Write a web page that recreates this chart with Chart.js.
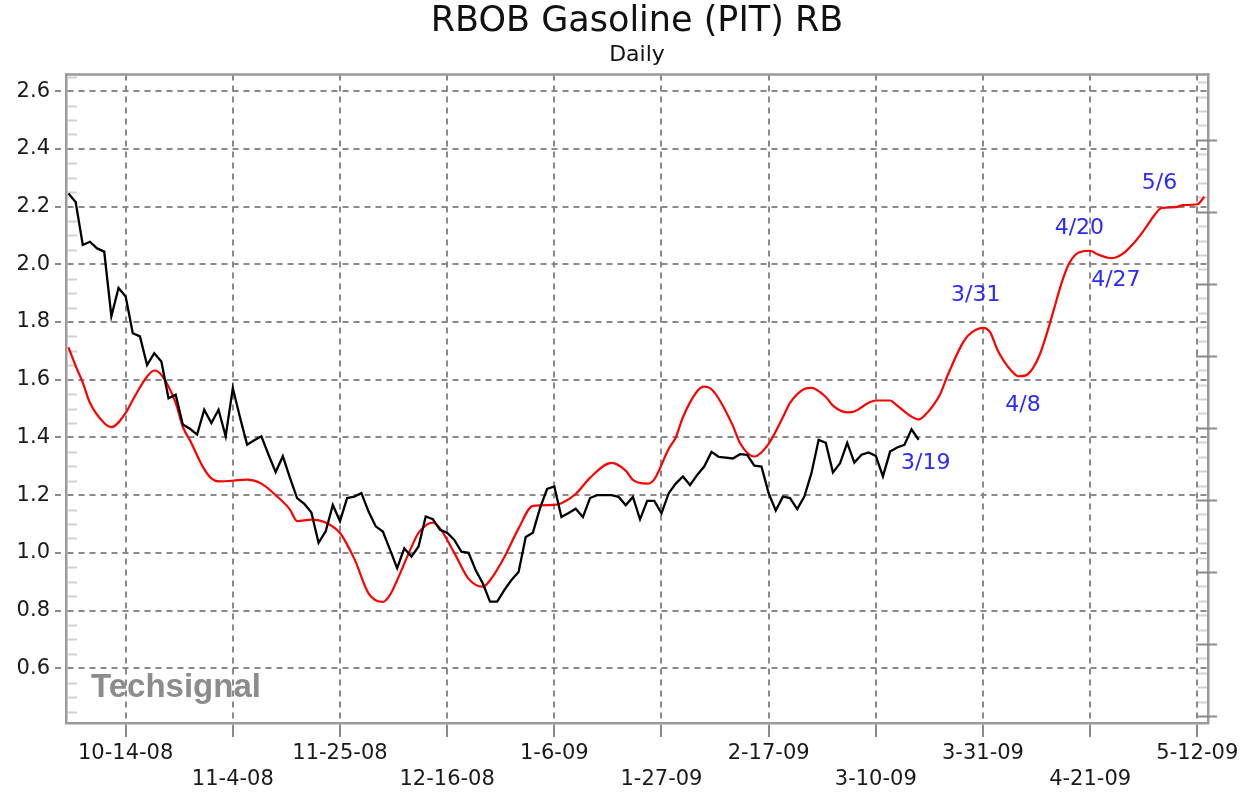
<!DOCTYPE html>
<html>
<head>
<meta charset="utf-8">
<script src="https://cdn.jsdelivr.net/npm/chart.js@4.4.1/dist/chart.umd.min.js"></script>
<style>
html,body{margin:0;padding:0;background:#ffffff;}
canvas{display:block;}
</style>
</head>
<body>
<canvas id="c" width="1259" height="794"></canvas>
<script>
// x positions are weekday indexes counted from Thu 10-2-08 (index 0)
const tickDays = [8, 23, 38, 53, 68, 83, 98, 113, 128, 143, 158];
const tickLabels = ['10-14-08','11-4-08','11-25-08','12-16-08','1-6-09','1-27-09','2-17-09','3-10-09','3-31-09','4-21-09','5-12-09'];
const yTicks = [0.6, 0.8, 1.0, 1.2, 1.4, 1.6, 1.8, 2.0, 2.2, 2.4, 2.6];

// daily RBOB close, one value per weekday starting at index 0
const priceValues = [
  2.245, 2.216, 2.067, 2.078, 2.055, 2.044, 1.820, 1.918, 1.888, 1.761,
  1.750, 1.651, 1.692, 1.663, 1.536, 1.548, 1.445, 1.430, 1.410, 1.496,
  1.450, 1.496, 1.404, 1.571, 1.470, 1.375, 1.390, 1.404, 1.340, 1.280,
  1.335, 1.260, 1.190, 1.170, 1.140, 1.035, 1.075, 1.166, 1.110, 1.190,
  1.195, 1.207, 1.143, 1.092, 1.074, 1.011, 0.947, 1.016, 0.987, 1.022,
  1.126, 1.117, 1.080, 1.070, 1.045, 1.004, 1.000, 0.940, 0.894, 0.831,
  0.831, 0.871, 0.906, 0.934, 1.055, 1.070, 1.155, 1.222, 1.230, 1.124,
  1.138, 1.153, 1.124, 1.190, 1.200, 1.200, 1.200, 1.194, 1.165, 1.194,
  1.116, 1.180, 1.180, 1.137, 1.206, 1.240, 1.265, 1.235, 1.270, 1.300,
  1.350, 1.333, 1.330, 1.327, 1.342, 1.340, 1.302, 1.299, 1.207, 1.147,
  1.195, 1.190, 1.152, 1.195, 1.277, 1.392, 1.381, 1.279, 1.311, 1.381,
  1.313, 1.340, 1.348, 1.336, 1.265, 1.351, 1.365, 1.374, 1.428, 1.392
];

// red cycle projection line
const cycleDays = [
  0, 1, 2, 3, 5, 6, 8, 9, 11, 12, 13, 15, 16, 17, 19, 20, 21, 23, 25, 27,
  29, 31, 32, 34, 36, 38, 40, 42, 44, 45, 46, 48, 49, 51, 52, 54, 56, 58, 59, 61,
  63, 65, 68, 69, 71, 73, 76, 78, 79, 81, 82, 84, 85, 86, 88, 89, 90, 91, 93, 94,
  96, 98, 100, 101, 103, 104, 106, 107, 109, 110, 112, 113, 115, 116, 118, 119, 120, 122, 123, 125,
  126, 128, 129, 130, 132, 133, 134, 135, 136, 137, 138, 139, 140, 141, 142, 143, 144, 146, 147, 148,
  149, 150, 151, 152, 153, 155, 156, 158, 159
];
const cycleValues = [
  1.712, 1.648, 1.590, 1.520, 1.450, 1.436, 1.485, 1.530, 1.611, 1.632, 1.617, 1.520, 1.437, 1.390, 1.290, 1.258, 1.248, 1.250, 1.254, 1.240,
  1.200, 1.150, 1.110, 1.115, 1.105, 1.069, 0.980, 0.860, 0.830, 0.854, 0.905, 1.020, 1.069, 1.105, 1.085, 1.000, 0.910, 0.883, 0.905, 0.985,
  1.085, 1.163, 1.166, 1.172, 1.204, 1.260, 1.312, 1.285, 1.253, 1.240, 1.255, 1.360, 1.400, 1.470, 1.560, 1.576, 1.567, 1.535, 1.440, 1.380,
  1.334, 1.378, 1.470, 1.520, 1.568, 1.572, 1.540, 1.510, 1.487, 1.490, 1.520, 1.528, 1.528, 1.510, 1.472, 1.462, 1.480, 1.550, 1.612, 1.720,
  1.755, 1.780, 1.765, 1.705, 1.630, 1.612, 1.615, 1.640, 1.690, 1.765, 1.850, 1.935, 2.000, 2.035, 2.045, 2.047, 2.035, 2.021, 2.028, 2.045,
  2.070, 2.100, 2.135, 2.170, 2.195, 2.198, 2.205, 2.208, 2.234
];

// blue date notes (anchor = text centre)
const noteTexts = ['3/19', '3/31', '4/8', '4/20', '4/27', '5/6'];
const noteDays = [120.0, 127.0, 133.6, 141.5, 146.6, 152.7];
const noteValues = [1.310, 1.893, 1.510, 2.125, 1.946, 2.280];

const FONT = "'DejaVu Sans', Verdana, sans-serif";

const decor = {
  id: 'decor',
  beforeDatasetsDraw(chart) {
    const {ctx, chartArea: a, scales} = chart;
    ctx.save();
    // watermark
    ctx.font = "bold 33px 'Liberation Sans', Arial, sans-serif";
    ctx.fillStyle = '#8c8c8c';
    ctx.textAlign = 'left';
    ctx.textBaseline = 'alphabetic';
    ctx.fillText('Techsignal', a.left + 25, a.bottom - 26);
    // left minor ticks
    ctx.strokeStyle = '#d2d2d2';
    ctx.lineWidth = 2;
    const y = scales.y;
    for (let k = 9; k <= 53; k++) {
      if (k % 4 === 0) continue;
      const py = Math.round(y.getPixelForValue(k * 0.05)) + 0.5;
      if (py < a.top + 3 || py > a.bottom - 3) continue;
      ctx.beginPath(); ctx.moveTo(a.left + 2, py); ctx.lineTo(a.left + 11, py); ctx.stroke();
    }
    // right axis minor + major ticks
    const y2 = scales.y2;
    for (let k = 0; k <= 44; k++) {
      const v = k * 0.2;
      const py = Math.round(y2.getPixelForValue(v)) + 0.5;
      if (py < a.top + 3 || py > a.bottom - 3) continue;
      ctx.beginPath();
      if (k % 5 === 0) {
        ctx.strokeStyle = '#8a8a8a';
        ctx.moveTo(a.right - 12, py); ctx.lineTo(a.right + 9, py);
      } else {
        ctx.strokeStyle = '#d2d2d2';
        ctx.moveTo(a.right - 10, py); ctx.lineTo(a.right - 1, py);
      }
      ctx.stroke();
    }
    // top frame
    ctx.strokeStyle = '#9a9a9a';
    ctx.lineWidth = 2.5;
    ctx.beginPath(); ctx.moveTo(a.left - 1, a.top); ctx.lineTo(a.right + 1, a.top); ctx.stroke();
    ctx.restore();
  },
  afterDatasetsDraw(chart) {
    const {ctx, scales} = chart;
    ctx.save();
    ctx.font = "22px " + FONT;
    ctx.fillStyle = '#2a2aff';
    ctx.textAlign = 'center';
    ctx.textBaseline = 'middle';
    noteTexts.forEach((t, i) => {
      ctx.fillText(t, scales.x.getPixelForValue(noteDays[i]), scales.y.getPixelForValue(noteValues[i]));
    });
    ctx.restore();
  }
};

new Chart(document.getElementById('c'), {
  type: 'line',
  data: {
    datasets: [
      {
        label: 'RBOB',
        data: priceValues.map((v, i) => ({x: i, y: v})),
        borderColor: '#000000',
        borderWidth: 2.3,
        pointRadius: 0,
        tension: 0,
        fill: false
      },
      {
        label: 'Cycle',
        data: cycleDays.map((d, i) => ({x: d, y: cycleValues[i]})),
        borderColor: '#ff0000',
        borderWidth: 2.2,
        pointRadius: 0,
        cubicInterpolationMode: 'monotone',
        fill: false
      }
    ]
  },
  options: {
    responsive: false,
    animation: false,
    devicePixelRatio: 1,
    layout: {padding: 0},
    plugins: {
      legend: {display: false},
      tooltip: {enabled: false},
      title: {
        display: true,
        text: 'RBOB Gasoline (PIT) RB',
        fullSize: false,
        color: '#111111',
        font: {family: FONT, size: 35, weight: 'normal', lineHeight: 1.0},
        padding: {top: 4, bottom: 0}
      },
      subtitle: {
        display: true,
        text: 'Daily',
        fullSize: false,
        color: '#111111',
        font: {family: FONT, size: 22, weight: 'normal', lineHeight: 1.2},
        padding: {top: 3, bottom: 6}
      }
    },
    scales: {
      x: {
        type: 'linear',
        position: 'bottom',
        min: -0.35,
        max: 159.5,
        afterBuildTicks: s => { s.ticks = tickDays.map(v => ({value: v})); },
        afterFit: s => { s.height = 71; },
        ticks: {
          autoSkip: false,
          maxRotation: 0,
          padding: 3,
          color: '#1a1a1a',
          font: {family: FONT, size: 21, lineHeight: 1.25},
          callback: (v, idx) => idx % 2 === 0 ? [tickLabels[idx], ''] : ['', tickLabels[idx]]
        },
        grid: {
          color: '#8a8a8a',
          lineWidth: 2,
          tickLength: 14,
          tickColor: '#8a8a8a',
          tickWidth: 2,
          tickBorderDash: []
        },
        border: {display: true, color: '#9a9a9a', width: 2.5, dash: [6, 5]}
      },
      y: {
        type: 'linear',
        position: 'left',
        min: 0.4105,
        max: 2.658,
        afterBuildTicks: s => { s.ticks = yTicks.map(v => ({value: v})); },
        afterFit: s => { s.width = 66; },
        ticks: {
          padding: 5,
          color: '#1a1a1a',
          font: {family: FONT, size: 21},
          callback: v => v.toFixed(1)
        },
        grid: {
          color: '#8a8a8a',
          lineWidth: 2,
          tickLength: 11,
          tickColor: '#8a8a8a',
          tickWidth: 2,
          tickBorderDash: [6, 5]
        },
        border: {display: true, color: '#9a9a9a', width: 2.5, dash: [6, 5]}
      },
      y2: {
        type: 'linear',
        position: 'right',
        min: -0.097,
        max: 8.907,
        afterFit: s => { s.width = 51; },
        ticks: {display: false},
        grid: {display: false, drawOnChartArea: false},
        border: {display: true, color: '#9a9a9a', width: 2.5}
      }
    }
  },
  plugins: [decor]
});
</script>
</body>
</html>
